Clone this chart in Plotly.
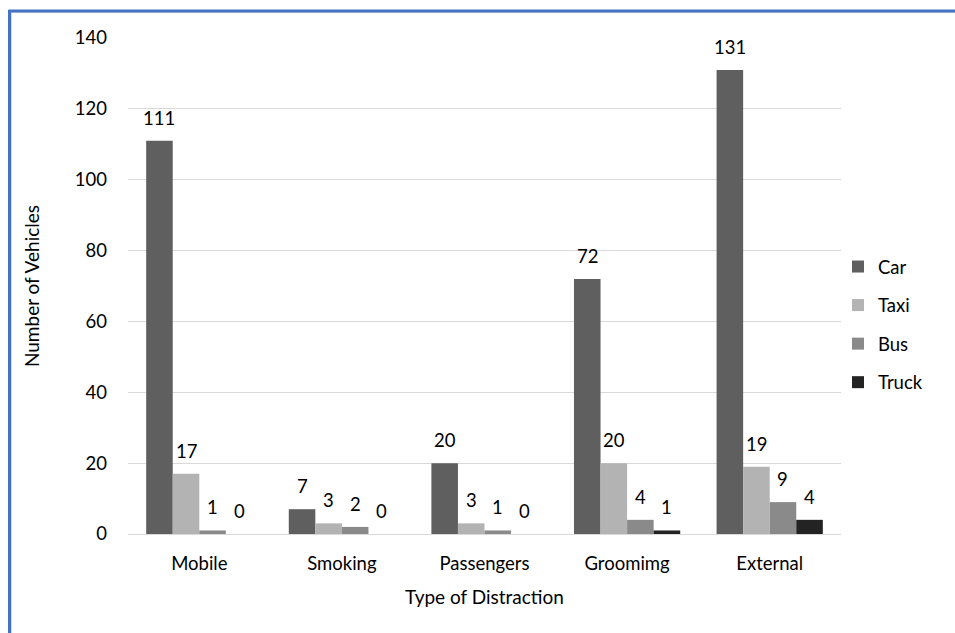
import plotly.graph_objects as go

# Distraction categories and vehicle counts
categories = ["Mobile", "Smoking", "Passengers", "Groomimg", "External"]
car = [111, 7, 20, 72, 131]
taxi = [17, 3, 3, 20, 19]
bus = [1, 2, 1, 4, 9]
truck = [0, 0, 0, 1, 4]

series_names = ["Car", "Taxi", "Bus", "Truck"]
series_values = [car, taxi, bus, truck]
series_colors = ["#5f5f5f", "#b3b3b3", "#8a8a8a", "#232323"]

y_ticks = [0, 20, 40, 60, 80, 100, 120, 140]

W, H = 955, 633
ML, MR, MT, MB = 128, 114, 38, 99
BARGAP = 0.255
FONT = "Lato"
FS = 18.5

fig = go.Figure()
n = len(series_names)
bar_w = (1 - BARGAP) / n
for i, (name, vals, col) in enumerate(zip(series_names, series_values, series_colors)):
    fig.add_trace(go.Bar(
        x=categories, y=vals, name=name,
        marker=dict(color=col, line=dict(width=0)),
        legendgroup=name,
    ))
    # value labels above each bar
    off = (i - (n - 1) / 2) * bar_w
    for j, v in enumerate(vals):
        fig.add_annotation(
            x=j + off, y=v, xref="x", yref="y",
            text=str(v), showarrow=False,
            yshift=23, yanchor="middle",
            font=dict(family=FONT, size=FS, color="#000000"),
        )

# frame lines along the top and left edges
pw = W - ML - MR
ph = H - MT - MB
def px(xp):
    return (xp - ML) / pw
def py(yp):
    return 1 - (yp - MT) / ph

fig.add_shape(type="line", xref="paper", yref="paper",
              x0=px(9), x1=px(W + 5), y0=py(12.5), y1=py(12.5),
              line=dict(color="#dcdcdc", width=1))
fig.add_shape(type="line", xref="paper", yref="paper",
              x0=px(11.5), x1=px(11.5), y0=py(12), y1=py(H + 5),
              line=dict(color="#dcdcdc", width=1))
fig.add_shape(type="line", xref="paper", yref="paper",
              x0=px(8.5), x1=px(W + 5), y0=py(11), y1=py(11),
              line=dict(color="#4472c4", width=3))
fig.add_shape(type="line", xref="paper", yref="paper",
              x0=px(9.5), x1=px(9.5), y0=py(10), y1=py(H + 5),
              line=dict(color="#4472c4", width=3))

fig.update_layout(
    width=W, height=H,
    margin=dict(l=ML, r=MR, t=MT, b=MB, pad=0),
    paper_bgcolor="white", plot_bgcolor="white",
    barmode="group", bargap=BARGAP, bargroupgap=0,
    font=dict(family=FONT, size=FS, color="#000000"),
    showlegend=True,
    legend=dict(
        x=(838 - ML) / pw, y=py(248), xanchor="left", yanchor="top",
        font=dict(family=FONT, size=FS, color="#000000"),
        tracegroupgap=11.5, bgcolor="rgba(0,0,0,0)",
        itemclick=False,
    ),
    xaxis=dict(
        title=dict(text="Type of Distraction", standoff=17,
                   font=dict(family=FONT, size=FS + 0.5)),
        showgrid=False, showline=True, linecolor="#d9d9d9", linewidth=1,
        ticks="", tickfont=dict(family=FONT, size=FS), ticklabelstandoff=13,
    ),
    yaxis=dict(
        title=dict(text="Number of Vehicles", standoff=30,
                   font=dict(family=FONT, size=FS + 0.5)),
        range=[0, 140], tickvals=y_ticks, ticktext=[str(t) for t in y_ticks],
        showgrid=True, gridcolor="#d9d9d9", gridwidth=1,
        zeroline=False, showline=False, ticks="",
        tickfont=dict(family=FONT, size=FS), ticklabelstandoff=20,
    ),
)

fig.write_html("out.html")
